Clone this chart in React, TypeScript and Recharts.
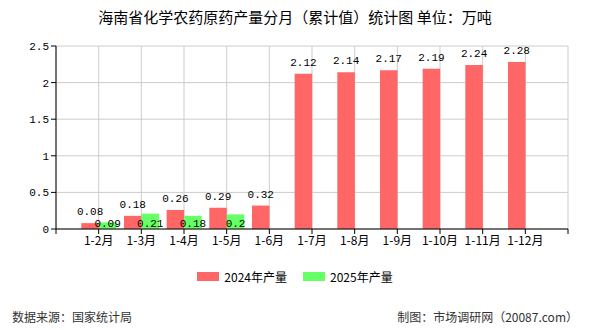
import { Bar, BarChart, CartesianGrid, LabelList, XAxis, YAxis } from "recharts";

const MONTHS = ["1-2月", "1-3月", "1-4月", "1-5月", "1-6月", "1-7月", "1-8月", "1-9月", "1-10月", "1-11月", "1-12月"];
const OUTPUT_2024 = [0.08, 0.18, 0.26, 0.29, 0.32, 2.12, 2.14, 2.17, 2.19, 2.24, 2.28];
const OUTPUT_2025 = [0.09, 0.21, 0.18, 0.2];
const Y_TICKS = [0, 0.5, 1, 1.5, 2, 2.5];
const X_TICKS = [0, 1, 2, 3, 4, 5, 6, 7, 8, 9, 10, 11, 12];

const RED = "#ff6666";
const GREEN = "#66ff66";
const NUM_FONT = "'Liberation Mono', 'DejaVu Sans Mono', monospace";
const CJK_FONT = "'Noto Sans CJK SC', 'Noto Sans', sans-serif";

// position 0 and 12 are empty slots at the edges of the axis
const data = MONTHS.map((m, i) => ({
  pos: i + 1,
  month: m,
  y2024: OUTPUT_2024[i],
  y2025: i < OUTPUT_2025.length ? OUTPUT_2025[i] : null,
}));

function BottomLabel(props: any) {
  const { x, width, value } = props;
  if (value == null) return null;
  return (
    <text x={x + width / 2} y={227} textAnchor="middle" fontSize={11} fontFamily={NUM_FONT} fill="#000">
      {value}
    </text>
  );
}

export default function App() {
  return (
    <div style={{ position: "fixed", left: 0, top: 0, width: 590, height: 330, background: "#fff", fontFamily: CJK_FONT }}>
      <div style={{ position: "absolute", top: 6, width: 590, textAlign: "center", fontSize: 15, color: "#000" }}>
        海南省化学农药原药产量分月（累计值）统计图 单位：万吨
      </div>
      <BarChart
        width={590}
        height={330}
        data={data}
        margin={{ top: 46, right: 22, bottom: 71, left: 0 }}
        barGap={0}
        style={{ position: "absolute", left: 0, top: 0 }}
      >
        <CartesianGrid stroke="#cccccc" />
        <XAxis
          type="number"
          dataKey="pos"
          domain={[0, 12]}
          ticks={X_TICKS}
          interval={0}
          height={30}
          stroke="#000"
          tickSize={5}
          tick={{ fontSize: 12, fill: "#000", fontFamily: CJK_FONT }}
          tickFormatter={(v: number) => (v >= 1 && v <= 11 ? MONTHS[v - 1] : "")}
        />
        <YAxis
          domain={[0, 2.5]}
          ticks={Y_TICKS}
          width={56}
          stroke="#000"
          tickSize={5}
          tick={{ fontSize: 11, fill: "#000", fontFamily: NUM_FONT }}
        />
        <Bar dataKey="y2024" fill={RED} barSize={17.5} isAnimationActive={false}>
          <LabelList dataKey="y2024" position="top" offset={8} fontSize={11} fontFamily={NUM_FONT} fill="#000" />
        </Bar>
        <Bar dataKey="y2025" fill={GREEN} barSize={17.5} isAnimationActive={false}>
          <LabelList dataKey="y2025" content={BottomLabel} />
        </Bar>
      </BarChart>
      <div style={{ position: "absolute", top: 268, left: 0, width: 590, display: "flex", justifyContent: "center", fontSize: 12, color: "#000" }}>
        <div style={{ display: "flex", alignItems: "center", marginRight: 16 }}>
          <span style={{ display: "inline-block", width: 22, height: 9, background: RED, marginRight: 5 }} />
          2024年产量
        </div>
        <div style={{ display: "flex", alignItems: "center" }}>
          <span style={{ display: "inline-block", width: 22, height: 9, background: GREEN, marginRight: 5 }} />
          2025年产量
        </div>
      </div>
      <div style={{ position: "absolute", top: 308, left: 12, fontSize: 12, color: "#333" }}>数据来源：国家统计局</div>
      <div style={{ position: "absolute", top: 308, right: 12, fontSize: 12, color: "#333" }}>制图：市场调研网（20087.com）</div>
    </div>
  );
}
